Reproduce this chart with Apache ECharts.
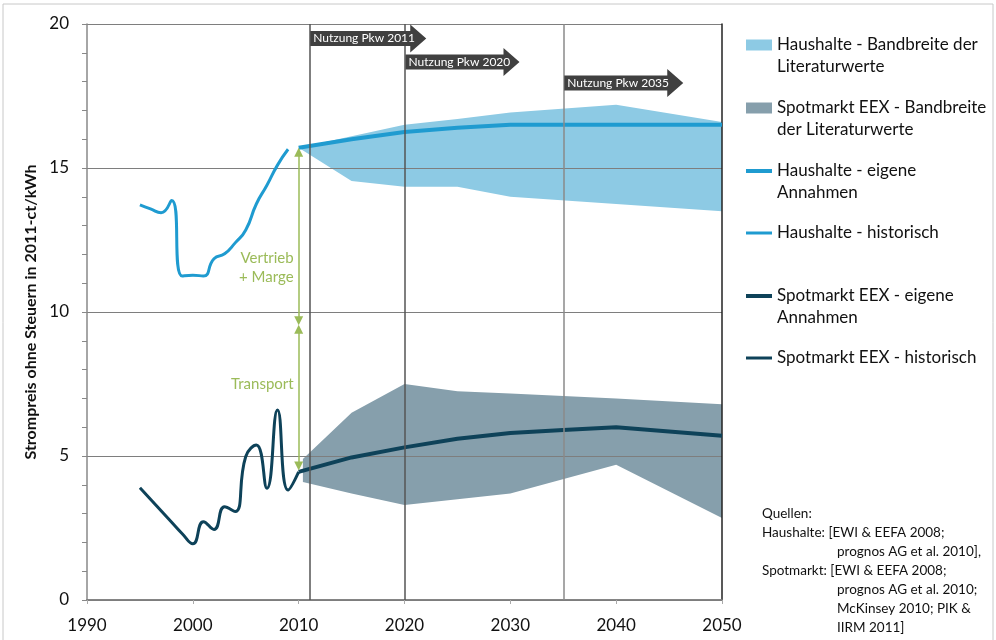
<!DOCTYPE html>
<html><head><meta charset="utf-8">
<script src="https://cdn.jsdelivr.net/npm/echarts@6/dist/echarts.min.js"></script>
<style>html,body{margin:0;padding:0;background:#fff}#c{width:996px;height:640px}</style>
</head><body><div id="c"></div>
<script>
// ---- data ----
const histYearsHH = [1995,1996,1997,1998,1999,2000,2001,2002,2003,2004,2005,2006,2007,2008,2009];
const hhHist      = [13.72,13.58,13.45,13.87,11.25,11.28,11.25,11.85,12.02,12.4,12.85,13.75,14.4,15.1,15.65];
const histYearsSpot = [1995,1996,1997,1998,1999,2000,2001,2002,2003,2004,2005,2006,2007,2008,2009,2010];
const spotHist      = [3.9,3.5,3.1,2.7,2.3,1.95,2.72,2.45,3.24,3.07,4.98,5.38,3.88,6.6,3.82,4.45];
const projYears = [2010,2015,2020,2025,2030,2035,2040,2045,2050];
const hhOwn     = [15.7,16.0,16.25,16.4,16.5,16.5,16.5,16.5,16.5];
const spotOwn   = [4.45,4.95,5.3,5.6,5.8,5.9,6.0,5.85,5.7];
const hhBandYears   = [2010,2015,2020,2025,2030,2040,2050];
const hhLow         = [15.7,14.55,14.35,14.35,14.0,13.75,13.5];
const hhHigh        = [15.7,16.1,16.5,16.7,16.93,17.2,16.6];
const spotBandYears = [2010.4,2015,2020,2025,2030,2040,2050];
const spotLow       = [4.1,3.7,3.3,3.5,3.7,4.7,2.85];
const spotHigh      = [4.9,6.5,7.5,7.25,7.17,7.0,6.8];
const pkwYears  = [2011,2020,2035];
const pkwLabels = ['Nutzung Pkw 2011','Nutzung Pkw 2020','Nutzung Pkw 2035'];
const arrowLevels = [4.5,9.55,15.7];   // Spotmarkt 2010, split, Haushalte 2010
const arrowTexts = ['Transport','Vertrieb\n+ Marge'];
const arrowTextY = [7.5,11.55];
const xTicks = [1990,2000,2010,2020,2030,2040,2050];
const yTicks = [0,5,10,15,20];
const names = ['Haushalte - Bandbreite der\nLiteraturwerte','Spotmarkt EEX - Bandbreite\nder Literaturwerte',
  'Haushalte - eigene\nAnnahmen','Haushalte - historisch','Spotmarkt EEX - eigene\nAnnahmen','Spotmarkt EEX - historisch'];
const sources = [['Quellen:',''],['Haushalte: [EWI & EEFA 2008;',''],['','prognos AG et al. 2010],'],
  ['Spotmarkt: [EWI & EEFA 2008;',''],['','prognos AG et al. 2010;'],['','McKinsey 2010; PIK &'],['','IIRM 2011]']];

const zip = (xs, ys) => xs.map((x,i)=>[x, ys[i]]);
const zip3 = (xs, a, b) => xs.map((x,i)=>[x, a[i], b[i]]);
const FONT = 'Lato, "Open Sans", sans-serif';
const C_HH_BAND = '#8dcae4', C_SP_BAND = '#869fac', C_HH = '#1f9bd0', C_SP = '#0e4259', C_GREEN = '#9bbb59';

const chart = echarts.init(document.getElementById('c'), null, {renderer:'canvas'});

const LH = 21.5;
function legend(i, center, h, twoLine){
  const top = twoLine ? center - 1.5*LH : center - LH/2;
  return {
    data:[{name:names[i], icon:'rect'}],
    formatter: twoLine ? (n => '\u00a0\n' + n) : (n => n),
    left:746, top:top, orient:'vertical', padding:0, itemWidth:26, itemHeight:h, itemGap:5,
    textStyle:{fontFamily:FONT, fontSize:17, color:'#111', lineHeight:LH}
  };
}

// band polygon drawn through the axis scales (api.coord)
function bandRender(params, api){
  if (params.dataIndexInside !== 0) return null;
  const n = params.dataInsideLength;
  const upper = [], lower = [];
  for (let j = 0; j < n; j++){
    const x = api.value(0, j);
    lower.push(api.coord([x, api.value(1, j)]));
    upper.push(api.coord([x, api.value(2, j)]));
  }
  const pts = lower.concat(upper.reverse());
  return {type:'polygon', shape:{points:pts}, style:{fill:api.visual('color')}, silent:true};
}

const option = {
  animation:false,
  textStyle:{fontFamily:FONT},
  grid:{left:87, right:274, top:24, bottom:40},
  xAxis:[
    {type:'value', min:xTicks[0], max:xTicks[xTicks.length-1], interval:10, position:'bottom', z:2,
     axisLine:{lineStyle:{color:'#555', width:1.5}}, axisTick:{show:false}, splitLine:{show:false},
     axisLabel:{fontSize:17, color:'#111', margin:17, fontFamily:FONT, formatter:v=>String(v)}},
    {type:'value', min:xTicks[0], max:xTicks[xTicks.length-1], interval:10, position:'top', z:2,
     axisLine:{lineStyle:{color:'#888', width:1.5}}, axisTick:{inside:true, length:4, lineStyle:{color:'#aaa'}},
     axisLabel:{show:false}, splitLine:{show:false}}
  ],
  yAxis:[
    {type:'value', min:yTicks[0], max:yTicks[yTicks.length-1], interval:5, z:2,
     name:'Strompreis ohne Steuern in 2011-ct/kWh', nameLocation:'middle', nameGap:39,
     nameTextStyle:{fontSize:16, fontWeight:'bold', color:'#111', fontFamily:FONT},
     axisLine:{show:true, lineStyle:{color:'#888', width:1.5}},
     axisTick:{show:true, length:5, lineStyle:{color:'#888'}},
     minorTick:{show:true, splitNumber:5, length:5, lineStyle:{color:'#888'}},
     splitLine:{show:true, lineStyle:{color:'#7e7e7e', width:1.2}},
     axisLabel:{fontSize:17, color:'#111', margin:18, fontFamily:FONT}},
    {type:'value', min:yTicks[0], max:yTicks[yTicks.length-1], position:'right', z:2,
     axisLine:{show:true, lineStyle:{color:'#222', width:1.5}}, axisTick:{show:false},
     axisLabel:{show:false}, splitLine:{show:false}}
  ],
  legend:[
    legend(0,45,11,true), legend(1,108,11,true), legend(2,171,4,true),
    legend(3,233,3,false), legend(4,296,4,true), legend(5,358,3,false)
  ],
  series:[
    {type:'custom', name:names[0], data:zip3(hhBandYears,hhLow,hhHigh), renderItem:bandRender, z:1,
     encode:{x:0, y:[1,2]}, itemStyle:{color:C_HH_BAND}},
    {type:'custom', name:names[1], data:zip3(spotBandYears,spotLow,spotHigh), renderItem:bandRender, z:1,
     encode:{x:0, y:[1,2]}, itemStyle:{color:C_SP_BAND}},
    {type:'line', name:'helper', data:[], z:2, silent:true,
     markLine:{silent:true, symbol:'none', label:{show:false},
       data: pkwYears.map((y,i)=>({xAxis:y, lineStyle:{color: i===2?'#8a8a8a':'#555', width:1.5, type:'solid'}}))}},
    {type:'line', name:'arrows', data:[], z:4, silent:true,
     markLine:{silent:true, symbol:['triangle','triangle'], symbolSize:[9,9], label:{show:false},
       lineStyle:{color:C_GREEN, width:1.5, type:'solid'},
       data:[
         [{coord:[2010, arrowLevels[0]+0.15]},{coord:[2010, arrowLevels[1]-0.15]}],
         [{coord:[2010, arrowLevels[1]+0.15]},{coord:[2010, arrowLevels[2]-0.15]}]
       ]}},
    {type:'line', name:names[2], data:zip(projYears,hhOwn), symbol:'none', z:3,
     lineStyle:{color:C_HH, width:4}, itemStyle:{color:C_HH}},
    {type:'line', name:names[3], data:zip(histYearsHH,hhHist), symbol:'none', smooth:0.55, z:3,
     lineStyle:{color:C_HH, width:3}, itemStyle:{color:C_HH}},
    {type:'line', name:names[4], data:zip(projYears,spotOwn), symbol:'none', z:3,
     lineStyle:{color:C_SP, width:4}, itemStyle:{color:C_SP}},
    {type:'line', name:names[5], data:zip(histYearsSpot,spotHist), symbol:'none', smooth:0.5, z:3,
     lineStyle:{color:C_SP, width:3}, itemStyle:{color:C_SP}}
  ]
};
chart.setOption(option);

// annotations positioned from axis coordinates
const gridTop = 24;
const graphics = [];
graphics.push({type:'rect', shape:{x:3,y:4,width:990,height:660}, style:{fill:'none', stroke:'#c8c8c8', lineWidth:1}, silent:true, z:0});
const rowY = [gridTop+14.5, gridTop+38, gridTop+59];
pkwYears.forEach((yr,i)=>{
  const x0 = chart.convertToPixel({xAxisIndex:0}, yr) + 1;
  const yc = rowY[i];
  const w = i===0 ? 100 : (i===1 ? 98 : 103);
  graphics.push({type:'polygon', z:100, silent:true,
    shape:{points:[[x0,yc-7.5],[x0+w,yc-7.5],[x0+w,yc-14],[x0+w+16,yc],[x0+w,yc+14],[x0+w,yc+7.5],[x0,yc+7.5]]},
    style:{fill:'#404040'}});
  graphics.push({type:'text', z:101, silent:true, x:x0+3, y:yc,
    style:{text:pkwLabels[i], fill:'#fff', font:'12px '+FONT, verticalAlign:'middle', align:'left'}});
});
arrowTexts.forEach((t,i)=>{
  const p = chart.convertToPixel({xAxisIndex:0, yAxisIndex:0}, [2010, arrowTextY[i]]);
  graphics.push({type:'text', z:101, silent:true, x:p[0]-5, y:p[1],
    style:{text:t, fill:C_GREEN, font:'15px '+FONT, verticalAlign:'middle', align:'right', lineHeight:19}});
});
sources.forEach((s,i)=>{
  const y = 514 + i*19;
  if (s[0]) graphics.push({type:'text', silent:true, x:762, y:y, style:{text:s[0], fill:'#111', font:'13.5px '+FONT, verticalAlign:'middle'}});
  if (s[1]) graphics.push({type:'text', silent:true, x:837, y:y, style:{text:s[1], fill:'#111', font:'13.5px '+FONT, verticalAlign:'middle'}});
});
chart.setOption({graphic:graphics});
</script>
</body></html>
